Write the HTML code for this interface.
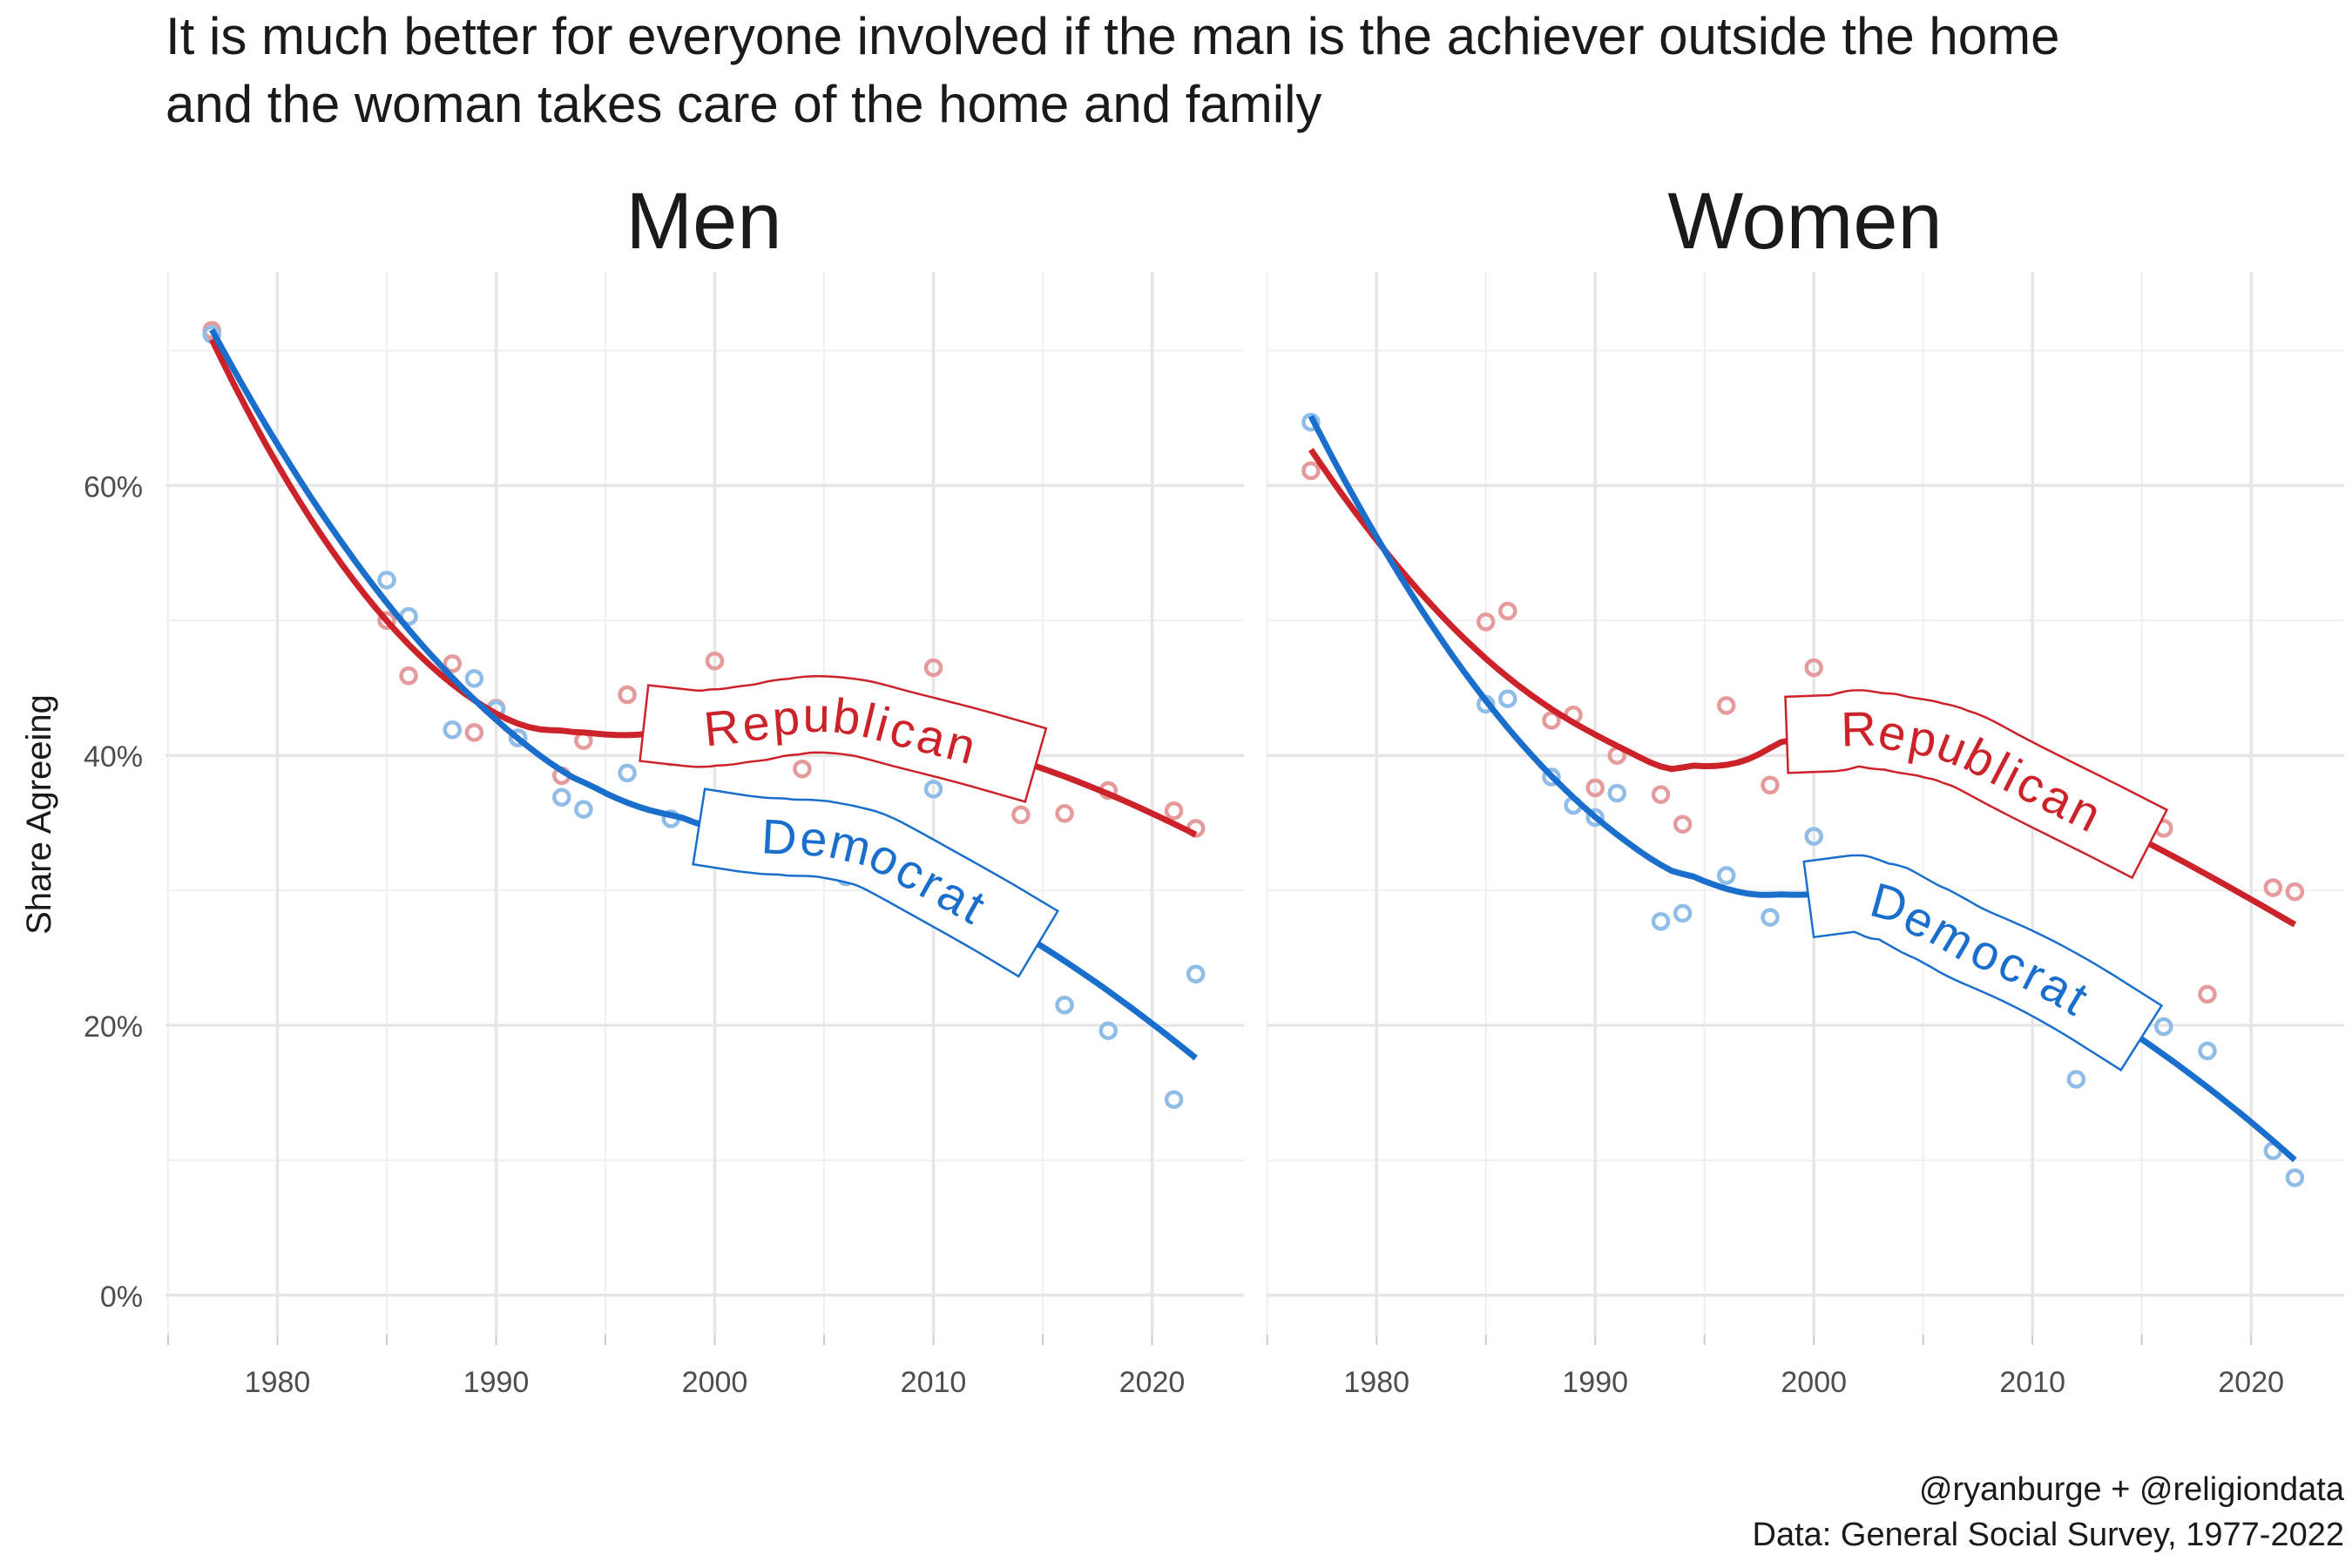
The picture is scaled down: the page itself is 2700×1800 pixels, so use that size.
<!DOCTYPE html>
<html><head><meta charset="utf-8"><style>
html,body{margin:0;padding:0;background:#fff;}
svg{display:block;font-family:"Liberation Sans Narrow","Liberation Sans",sans-serif;}
</style></head><body>
<svg id="chart" width="2700" height="1800" viewBox="0 0 2700 1800">
<text x="190" y="62" font-size="60" fill="#1a1a1a">It is much better for everyone involved if the man is the achiever outside the home</text>
<text x="190" y="140" font-size="60" fill="#1a1a1a">and the woman takes care of the home and family</text>
<text x="808" y="285" font-size="92" fill="#1a1a1a" text-anchor="middle">Men</text>
<text x="2072" y="285" font-size="92" fill="#1a1a1a" text-anchor="middle">Women</text>
<text transform="translate(58,935) rotate(-90)" font-size="40" fill="#1a1a1a" text-anchor="middle">Share Agreeing</text>
<text x="2691" y="1722" font-size="38" fill="#1a1a1a" text-anchor="end">@ryanburge + @religiondata</text>
<text x="2691" y="1774" font-size="38" fill="#1a1a1a" text-anchor="end">Data: General Social Survey, 1977-2022</text>
<g id="plots"></g>
</svg>
<script>
const years = [1977,1985,1986,1988,1989,1990,1991,1993,1994,1996,1998,2000,2002,2004,2006,2008,2010,2012,2014,2016,2018,2021,2022];
const menRep   = [71.5,50.0,45.9,46.8,41.7,43.5,41.3,38.5,41.1,44.5,39.9,47.0,42.0,39.0,41.0,44.0,46.5,42.0,35.6,35.7,37.4,35.9,34.6];
const menDem   = [71.2,53.0,50.3,41.9,45.7,43.4,41.3,36.9,36.0,38.7,35.3,36.0,33.0,35.0,31.0,30.0,37.5,30.0,26.7,21.5,19.6,14.5,23.8];
const womenRep = [61.1,49.9,50.7,42.6,43.0,37.6,40.0,37.1,34.9,43.7,37.8,46.5,42.0,41.0,38.9,40.0,38.0,36.0,36.0,34.6,22.3,30.2,29.9];
const womenDem = [64.7,43.8,44.2,38.4,36.3,35.4,37.2,27.7,28.3,31.1,28.0,34.0,30.0,28.0,27.0,26.0,24.0,16.0,22.0,19.9,18.1,10.7,8.7];
const yTicks = [0,20,40,60];
const yTickLabels = ["0%","20%","40%","60%"];
const xTicks = [1980,1990,2000,2010,2020];
const panelNames = ["men","women"];

const RED="#cc2229", BLUE="#1a6fcd", RED_PT="#e59a9c", BLUE_PT="#90bce8";
const NS="http://www.w3.org/2000/svg";
const root=document.getElementById('plots');
function mk(tag,attrs,parent){const e=document.createElementNS(NS,tag);for(const k in attrs)e.setAttribute(k,attrs[k]);(parent||root).appendChild(e);return e;}

function loess(xs,ys,x0,span){
  const n=xs.length,q=Math.floor(n*span);
  const d=xs.map(x=>Math.abs(x-x0));const h=[...d].sort((a,b)=>a-b)[q-1]*1.0001;
  let S=[[0,0,0],[0,0,0],[0,0,0]],B=[0,0,0];
  for(let i=0;i<n;i++){const u=d[i]/h;if(u>=1)continue;const w=Math.pow(1-u*u*u,3);const t=xs[i]-x0;const v=[1,t,t*t];
    for(let a=0;a<3;a++){B[a]+=w*v[a]*ys[i];for(let b=0;b<3;b++)S[a][b]+=w*v[a]*v[b];}}
  const M=S.map((r,i)=>[...r,B[i]]);
  for(let c=0;c<3;c++){let p=c;for(let r=c+1;r<3;r++)if(Math.abs(M[r][c])>Math.abs(M[p][c]))p=r;[M[c],M[p]]=[M[p],M[c]];
    for(let r=0;r<3;r++){if(r===c)continue;const f=M[r][c]/M[c][c];for(let k=c;k<4;k++)M[r][k]-=f*M[c][k];}}
  return M[0][3]/M[0][0];
}

const panels=[
 {name:"men",x0:190,x1:1428,x1980:318.5,rep:menRep,dem:menDem,labR:[1998.5,2013],labD:[2001,2013.3]},
 {name:"women",x0:1454,x1:2691,x1980:1580.2,rep:womenRep,dem:womenDem,labR:[2000.5,2013.8],labD:[2001.5,2013.5]}
];
const PX_YEAR=25.1, Y0=1486.8, PX_PCT=15.49, TOP=312, BOT=1532;
const yS=v=>Y0-v*PX_PCT;

panels.forEach(p=>{
  const xS=yr=>p.x1980+(yr-1980)*PX_YEAR;
  const g=mk('g',{});
  
  
  for(let v=10;v<=70;v+=20){const l=mk('line',{x1:p.x0,x2:p.x1,y1:yS(v),y2:yS(v),stroke:"#f0f0f0","stroke-width":2},g);}
  for(let yr=1975;yr<=2025;yr+=10){const x=xS(yr);if(x<p.x0||x>p.x1)continue;const l=mk('line',{x1:x,x2:x,y1:TOP,y2:BOT,stroke:"#f0f0f0","stroke-width":2},g);}
  yTicks.forEach((v,i)=>{
    const l=mk('line',{x1:p.x0,x2:p.x1,y1:yS(v),y2:yS(v),stroke:"#e6e6e6","stroke-width":3.5},g);
    
    if(p.name==="men"){const t=mk('text',{x:p.x0-26,y:yS(v)+13,"font-size":34,fill:"#4d4d4d","text-anchor":"end"},g);t.textContent=yTickLabels[i];
      }
  });
  xTicks.forEach(yr=>{
    const l=mk('line',{x1:xS(yr),x2:xS(yr),y1:TOP,y2:BOT,stroke:"#e6e6e6","stroke-width":3.5},g);
    
    const t=mk('text',{x:xS(yr),y:1598,"font-size":34,fill:"#4d4d4d","text-anchor":"middle"},g);t.textContent=yr;
    
  });
  for(let yr=1975;yr<=2020;yr+=5){const tk=mk('line',{x1:xS(yr),x2:xS(yr),y1:BOT,y2:BOT+12,stroke:"#cccccc","stroke-width":2},g);}

  const series=[{key:"rep",vals:p.rep,col:RED,pt:RED_PT,lab:"Republican",rng:p.labR},{key:"dem",vals:p.dem,col:BLUE,pt:BLUE_PT,lab:"Democrat",rng:p.labD}];
  series.forEach(s=>{
    s.vals.forEach((v,i)=>{const c=mk('circle',{cx:xS(years[i]),cy:yS(v),r:8.5,fill:"none",stroke:s.pt,"stroke-width":4.5},g);
      });
  });
  series.forEach(s=>{
    const pts=[];for(let k=0;k<=90;k++){const yr=1977+45*k/90;pts.push([xS(yr),yS(loess(years,s.vals,yr,0.75))]);}
    s.fitFn=yr=>loess(years,s.vals,yr,0.75);
    const d="M"+pts.map(q=>q[0].toFixed(1)+","+q[1].toFixed(1)).join("L");
    const l=mk('path',{d:d,fill:"none",stroke:s.col,"stroke-width":7,"stroke-linejoin":"round"},g);
    
  });
  series.forEach(s=>{
    const [a,b]=s.rng;const pts=[];for(let k=0;k<=40;k++){const yr=a+(b-a)*k/40;pts.push([xS(yr),yS(s.fitFn(yr))]);}
    const d="M"+pts.map(q=>q[0].toFixed(1)+","+q[1].toFixed(1)).join("L");
    const id='lp-'+p.name+'-'+s.key;
    const lg=mk('g',{},g);
    mk('path',{d:d,fill:"none",stroke:s.col,"stroke-width":90,"stroke-linejoin":"round","stroke-linecap":"square"},lg);
    mk('path',{id:id,d:d,fill:"none",stroke:"#fff","stroke-width":85,"stroke-linejoin":"round","stroke-linecap":"square"},lg);
    const t=mk('text',{"font-size":56,fill:s.col,"letter-spacing":4,"dominant-baseline":"central"},lg);
    const tp=mk('textPath',{href:"#"+id,startOffset:"50%","text-anchor":"middle"},t);tp.textContent=s.lab;
  });
});
</script>
</body></html>
